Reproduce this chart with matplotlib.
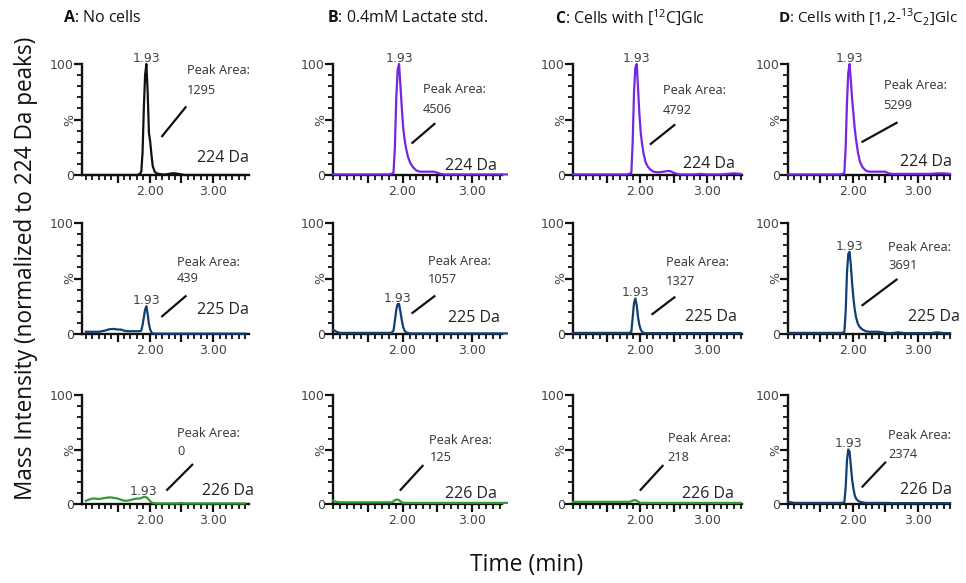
import matplotlib
matplotlib.use("Agg")
import matplotlib.pyplot as plt
from matplotlib.ticker import MultipleLocator, FixedLocator

plt.rcParams['font.family'] = ['Open Sans', 'DejaVu Sans']
plt.rcParams['mathtext.fontset'] = 'custom'
plt.rcParams['mathtext.rm'] = 'Open Sans'
plt.rcParams['mathtext.bf'] = 'Open Sans:bold'

# --- data -------------------------------------------------------------
time = [1.00, 1.05, 1.10, 1.15, 1.20, 1.25, 1.30, 1.35, 1.40, 1.45,
        1.50, 1.55, 1.60, 1.65, 1.70, 1.75, 1.80, 1.84, 1.87, 1.89,
        1.91, 1.93, 1.95, 1.97, 1.99, 2.01, 2.03, 2.05, 2.08, 2.11,
        2.15, 2.20, 2.25, 2.30, 2.35, 2.40, 2.45, 2.50, 2.55, 2.60,
        2.70, 2.80, 2.90, 3.00, 3.10, 3.20, 3.30, 3.40, 3.50]

letters = ["A", "B", "C", "D"]
samples = ["No cells", "0.4mM Lactate std.", "Cells with [$^{12}$C]Glc",
           "Cells with [1,2-$^{13}$C$_2$]Glc"]
masses = ["224 Da", "225 Da", "226 Da"]
rt_label = "1.93"

peak_areas = [[1295, 4506, 4792, 5299],
              [439, 1057, 1327, 3691],
              [0, 125, 218, 2374]]
show_rt = [[True, True, True, True],
           [True, True, True, True],
           [True, False, False, True]]

# % intensity, normalised to the 224 Da peak
m224_a = [0, 0, 0, 0, 0, 0, 0, 0, 0, 0, 0, 0, 0, 0, 0, 0, 0, 0.5, 3, 20,
          60, 90, 100, 75, 38, 30, 18, 8, 3, 1.5, 1, 0.5, 0.5, 1, 1.5, 1.5, 1, 0.5, 0, 0,
          0, 0, 0, 0, 0, 0, 0, 0, 0]
m224_b = [0.5, 0.5, 0.5, 0.5, 0.5, 0.5, 0.5, 0.5, 0.5, 0.5, 0.5, 0.5, 0.5, 0.5, 0.5, 0.5, 0.5, 1, 2, 25,
          70, 95, 100, 80, 60, 42, 32, 24, 16, 11, 7, 4, 3, 3, 3, 3, 3, 2, 1, 0.5,
          0.5, 0.5, 0.5, 0.5, 0.5, 0.5, 0.5, 0.5, 0.5]
m224_c = [0.5, 0.5, 0.5, 0.5, 0.5, 0.5, 0.5, 0.5, 0.5, 0.5, 0.5, 0.5, 0.5, 0.5, 0.5, 0.5, 0.5, 1, 2, 30,
          75, 97, 100, 78, 55, 38, 28, 20, 12, 8, 5, 3, 2.5, 2.5, 3, 3.5, 3.5, 2, 1, 0.5,
          0.5, 0.5, 1, 0.5, 0.5, 0.5, 1, 1.5, 1]
m224_d = [0.5, 0.5, 0.5, 0.5, 0.5, 0.5, 0.5, 0.5, 0.5, 0.5, 0.5, 0.5, 0.5, 0.5, 0.5, 0.5, 0.5, 1, 2, 25,
          65, 92, 100, 85, 68, 55, 42, 32, 20, 12, 7, 4, 3, 3, 3, 3, 3, 3, 1.5, 1,
          1, 1, 1, 1, 1, 1, 1.5, 1.5, 1]

m225_a = [2, 2, 2, 2, 2, 2.5, 3, 4, 4.5, 4.5, 4, 4, 3, 2.5, 2.5, 2.5, 2.5, 2.5, 3, 8,
          15, 22, 25, 18, 9, 4, 1.5, 0.5, 0.3, 0.3, 0.3, 0.3, 0.3, 0.3, 0.3, 0.3, 0.3, 0.3, 0.3, 0.3,
          0.3, 0.3, 0.3, 0.3, 0.3, 0.3, 0.3, 0.3, 0.3]
m225_b = [4, 2, 1, 1, 1, 1, 1, 1, 1, 1, 1, 1, 1, 1, 1, 1, 1, 1, 3, 12,
          22, 27, 27, 20, 12, 6, 3, 1.5, 1, 0.5, 0.5, 0.5, 0.5, 0.5, 0.5, 0.5, 0.5, 0.5, 0.5, 0.5,
          0.5, 0.5, 0.5, 0.5, 0.5, 0.5, 0.5, 0.5, 0.5]
m225_c = [1, 1, 1, 1, 1, 1, 1, 1, 1, 1, 1, 1, 1, 1, 1, 1, 1, 1, 2, 15,
          28, 32, 26, 15, 8, 4, 2, 1, 0.8, 0.8, 0.8, 0.8, 0.8, 0.8, 0.8, 0.8, 0.8, 0.8, 0.8, 0.8,
          0.8, 0.8, 0.8, 0.8, 0.8, 0.8, 0.8, 0.8, 0.8]
m225_d = [1, 1, 1, 1, 1, 1, 1, 1, 1, 1, 1, 1, 1, 1, 1, 1, 1, 1, 2, 20,
          55, 72, 74, 62, 45, 32, 22, 15, 9, 6, 4, 2.5, 2, 2, 2, 2, 1.5, 1, 0.8, 0.8,
          1.5, 0.8, 0.8, 0.8, 0.8, 0.8, 1.5, 0.8, 0.8]

m226_a = [3, 4, 5, 5, 4.5, 5, 5.5, 6, 6, 5.5, 5, 4, 3, 3, 3.5, 4.5, 5, 5, 5.5, 6,
          6.5, 6.5, 6, 5.5, 4, 2.5, 1.5, 1, 0.8, 0.5, 0.5, 0.5, 0.5, 0.5, 0.5, 0.5, 0.5, 1, 0.5, 0.5,
          0.5, 0.5, 0.5, 0.5, 0.5, 0.5, 0.5, 0.5, 0.5]
m226_b = [3, 2, 1.5, 1.5, 1.5, 1.5, 1.5, 1.5, 1.5, 1.5, 1.5, 1.5, 1.5, 1.5, 1.5, 1.5, 1.5, 1.5, 2.5, 3.5,
          4, 4, 3.5, 2.5, 1.5, 1, 1, 1, 1, 1, 1, 1, 1, 1, 1, 1, 1, 1, 1, 1,
          1, 1, 1, 1, 1, 1, 1, 1, 1]
m226_c = [2, 2, 2, 2, 2, 2, 2, 2, 2, 2, 2, 2, 2, 2, 2, 2, 2, 2, 2.5, 3,
          3.5, 3.5, 3, 2, 1.5, 1, 1, 1, 1, 1, 1, 1, 1, 1, 1, 1, 1, 1, 1, 1,
          1, 1, 1, 1, 1, 1, 1, 1, 1]
m226_d = [2, 1.5, 1, 1, 1, 1, 1, 1, 1, 1, 1, 1, 1, 1, 1, 1, 1, 1, 2, 15,
          40, 50, 48, 35, 22, 14, 8, 5, 3, 2, 1.5, 1, 1, 1, 1, 1, 1, 1, 1, 0.8,
          0.8, 0.8, 0.8, 0.8, 0.8, 0.8, 0.8, 0.8, 0.8]

traces = [[m224_a, m224_b, m224_c, m224_d],
          [m225_a, m225_b, m225_c, m225_d],
          [m226_a, m226_b, m226_c, m226_d]]

# --- styling / layout ------------------------------------------------
colors = [["#111111", "#7526e0", "#7526e0", "#7526e0"],
          ["#123f73", "#123f73", "#123f73", "#123f73"],
          ["#2f9a2f", "#2f9a2f", "#2f9a2f", "#123f73"]]

W, H = 966, 583
col_left = [82, 333, 573, 788]
col_right = [249, 502, 742, 950]
row_top = [64, 223, 395]
row_bottom = [175, 334, 504]
col_xlim = [(0.94, 3.56), (1.0, 3.43), (1.0, 3.52), (1.0, 3.5)]
title_x = [63, 327, 555, 778]
title_size = [11.5, 11.5, 11.3, 11]

# (peak-area x, "Peak Area:" y, number y, line x0, y0, x1, y1, mass x, mass y)
labels = [
    [(0.63, 0.94, 0.76, 0.48, 0.35, 0.62, 0.61, 1.00, 0.15),
     (0.53, 0.77, 0.59, 0.47, 0.29, 0.60, 0.46, 0.97, 0.08),
     (0.53, 0.76, 0.58, 0.46, 0.28, 0.60, 0.45, 0.96, 0.10),
     (0.59, 0.81, 0.63, 0.46, 0.30, 0.67, 0.47, 1.01, 0.12)],
    [(0.57, 0.64, 0.50, 0.48, 0.16, 0.62, 0.34, 1.00, 0.22),
     (0.56, 0.65, 0.49, 0.47, 0.19, 0.60, 0.34, 0.99, 0.14),
     (0.55, 0.64, 0.47, 0.47, 0.18, 0.60, 0.33, 0.97, 0.15),
     (0.62, 0.78, 0.62, 0.46, 0.26, 0.67, 0.49, 1.06, 0.15)],
    [(0.57, 0.65, 0.48, 0.51, 0.13, 0.66, 0.36, 1.03, 0.12),
     (0.57, 0.58, 0.43, 0.40, 0.13, 0.53, 0.35, 0.97, 0.09),
     (0.56, 0.60, 0.43, 0.40, 0.13, 0.53, 0.35, 0.95, 0.09),
     (0.62, 0.63, 0.45, 0.46, 0.16, 0.60, 0.38, 1.01, 0.13)],
]

fig = plt.figure(figsize=(W / 100, H / 100), dpi=100)

for c in range(4):
    fig.text(title_x[c] / W, 1 - 18 / H, r"$\mathbf{%s}$: " % letters[c] + samples[c],
             fontsize=title_size[c], va="center", ha="left", color="#111111")

for r in range(3):
    for c in range(4):
        left = col_left[c] / W
        bottom = 1 - row_bottom[r] / H
        ax = fig.add_axes([left, bottom, (col_right[c] - col_left[c]) / W,
                           (row_bottom[r] - row_top[r]) / H])
        y = traces[r][c]
        ax.plot(time, y, color=colors[r][c], lw=1.6, clip_on=False, zorder=3)
        ax.set_xlim(*col_xlim[c])
        ax.set_ylim(0, 100)

        for s in ["top", "right"]:
            ax.spines[s].set_visible(False)
        for s in ["left", "bottom"]:
            ax.spines[s].set_linewidth(1.7)
            ax.spines[s].set_color("#111111")

        ax.xaxis.set_major_locator(FixedLocator([1.5, 2.0, 2.5, 3.0]))
        ax.set_xticklabels(["", "2.00", "", "3.00"])
        ax.xaxis.set_minor_locator(MultipleLocator(0.1))
        ax.yaxis.set_major_locator(FixedLocator([0, 50, 100]))
        ax.set_yticklabels(["0", "", "100"])
        ax.yaxis.set_minor_locator(MultipleLocator(10))
        ax.tick_params(which="major", direction="out", length=5.5, width=1.6,
                       color="#111111", labelsize=9, labelcolor="#444444", pad=2)
        ax.tick_params(which="minor", direction="out", length=3.5, width=1.3, color="#111111")
        ax.tick_params(axis="y", pad=0.5)
        for lab in ax.get_xticklabels() + ax.get_yticklabels():
            lab.set_family("DejaVu Sans")
        ax.text(-0.075, 0.5, "%", transform=ax.transAxes, rotation=90, fontsize=9,
                color="#444444", family="DejaVu Sans", ha="center", va="center")

        px, py, ny, lx0, ly0, lx1, ly1, mx, my = labels[r][c]
        ax.text(px, py, "Peak Area:", transform=ax.transAxes, fontsize=9.2,
                color="#333333", ha="left", va="center")
        ax.text(px, ny, str(peak_areas[r][c]), transform=ax.transAxes, fontsize=9.2,
                color="#333333", ha="left", va="center")
        ax.plot([lx0, lx1], [ly0, ly1], transform=ax.transAxes, color="#111111",
                lw=1.6, clip_on=False)
        ax.text(mx, my, masses[r], transform=ax.transAxes, fontsize=11.5,
                color="#222222", ha="right", va="center")

        if show_rt[r][c]:
            i = max(range(len(time)), key=lambda k: y[k] if 1.85 < time[k] < 2.05 else -1)
            ax.annotate(rt_label, (time[i], y[i]), xytext=(0, 4), textcoords="offset points",
                        ha="center", va="center", fontsize=9, color="#444444",
                        family="DejaVu Sans", annotation_clip=False)

fig.text(26 / W, 1 - 268 / H, "Mass Intensity (normalized to 224 Da peaks)",
         rotation=90, fontsize=16.3, ha="center", va="center", color="#111111")
fig.text(527 / W, 1 - 565 / H, "Time (min)", fontsize=16.5, ha="center",
         va="center", color="#111111")

fig.savefig("out.png", dpi=100)
